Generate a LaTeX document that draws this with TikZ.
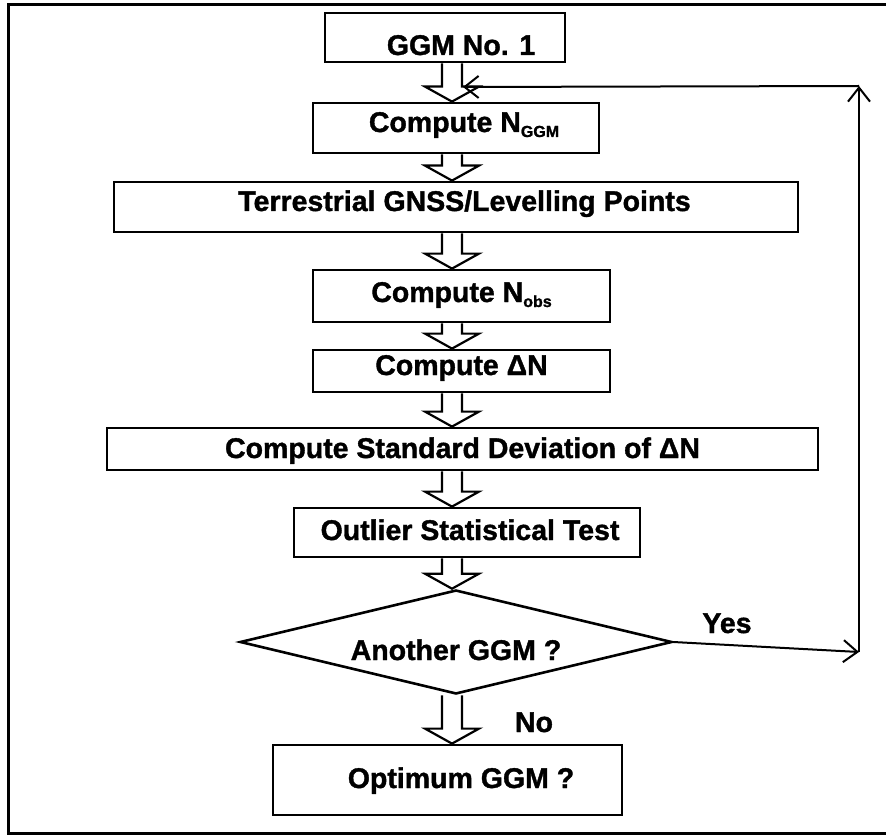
\documentclass[tikz,border=0pt]{standalone}
\usepackage{fontspec}
\setmainfont{Liberation Sans}[BoldFeatures={FakeBold=1.3}]
\usetikzlibrary{calc,shapes.geometric,arrows.meta}
\newcommand\bigf{\fontsize{28.5}{30}\selectfont\bfseries}
\newcommand\subf[1]{\raisebox{-5pt}{\fontsize{16}{16}\selectfont #1}}
\newcommand\harrow[2]{%
  \draw[hol] ($(ax |- #1.south)+(-10,0)$) -- ($(ax |- #2.north)+(-10,-15)$)
    -- ($(ax |- #2.north)+(-27,-15)$) -- (ax |- #2.north)
    -- ($(ax |- #2.north)+(27,-15)$) -- ($(ax |- #2.north)+(10,-15)$)
    -- ($(ax |- #1.south)+(10,0)$);}
\begin{document}
\begin{tikzpicture}[x=1pt,y=-1pt,
  bx/.style={draw, line width=2.8pt, inner sep=0pt, font=\bigf},
  hol/.style={line width=2.2pt, line join=miter},
  thinarr/.style={line width=2pt, -{Straight Barb[length=14pt,width=22pt]}},
  lbl/.style={font=\bigf, anchor=base, inner sep=0pt}]
\useasboundingbox (0,0) rectangle (886,837);
\draw[line width=3pt] (890,5) -- (8,5) -- (8,833) -- (890,833);
\coordinate (ax) at (452,0);
\node[bx, minimum width=240pt, minimum height=49pt, text height=36pt, text depth=1pt] (b1) at (445,37.5) {\hspace*{32pt}GGM No. 1};
\node[bx, minimum width=286pt, minimum height=50pt, text height=20pt, text depth=12pt] (b2) at (456,128) {\hspace*{16pt}Compute N\subf{GGM}};
\node[bx, minimum width=684pt, minimum height=50pt, text height=20pt, text depth=12pt] (b3) at (456,207) {\hspace*{17pt}Terrestrial GNSS/Levelling Points};
\node[bx, minimum width=297pt, minimum height=52pt, text height=21pt, text depth=9pt] (b4) at (461.5,296) {Compute N\subf{obs}};
\node[bx, minimum width=297pt, minimum height=42pt, text height=20pt, text depth=12pt] (b5) at (461.5,371) {Compute ΔN};
\node[bx, minimum width=711pt, minimum height=42pt, text height=21pt, text depth=3pt] (b6) at (462.5,449) {Compute Standard Deviation of ΔN};
\node[bx, minimum width=346pt, minimum height=49pt, text height=21pt, text depth=6pt] (b7) at (467,532.5) {\hspace*{6pt}Outlier Statistical Test};
\node[draw, diamond, line width=2.6pt, aspect=4.15, minimum width=432pt, minimum height=104pt, inner sep=0pt] (d) at (456,642) {};
\node[lbl] (dt) at (456,660) {Another GGM ?};
\node[bx, minimum width=349pt, minimum height=70pt, text height=21pt, text depth=5pt] (b8) at (447.5,780) {\hspace*{27pt}Optimum GGM ?};
\harrow{b1}{b2}
\harrow{b2}{b3}
\harrow{b3}{b4}
\harrow{b4}{b5}
\harrow{b5}{b6}
\harrow{b6}{b7}
\harrow{b7}{d}
\harrow{d}{b8}
\coordinate (c1) at (859,652);
\coordinate (c2) at (859,86);
\coordinate (c3) at (463,87);
\draw[thinarr] (d.east) -- (c1);
\draw[thinarr] (c1) -- (c2);
\draw[thinarr] (c2) -- (c3);
\node[lbl] (yes) at (727,633) {Yes};
\node[lbl] (no) at (534,732) {No};
\end{tikzpicture}
\end{document}
